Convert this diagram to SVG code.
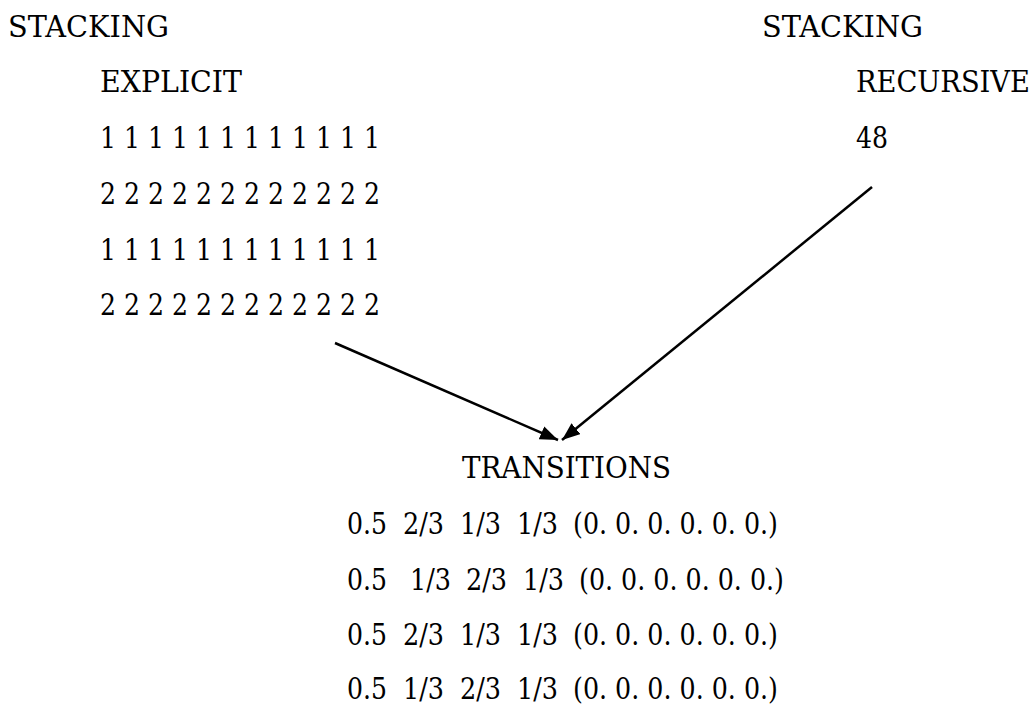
<svg xmlns="http://www.w3.org/2000/svg" width="1036" height="704" viewBox="0 0 1036 704">
<style>
  text { font-family: 'DejaVu Serif', 'Liberation Serif', serif; font-size: 29px; fill: #000; }
  .edge { stroke: #000; stroke-width: 2.5; fill: none; marker-end: url(#arrow); }
</style>
<defs>
  <marker id="arrow" markerUnits="userSpaceOnUse" markerWidth="20" markerHeight="16" refX="18" refY="7" orient="auto">
    <path d="M0,0 L18,7 L0,14 Z" fill="#000"/>
  </marker>
</defs>
<rect width="1036" height="704" fill="#fff"/>
<g id="explicit">
  <text x="8" y="37" textLength="161" lengthAdjust="spacingAndGlyphs">STACKING</text>
  <text x="100" y="92" textLength="142" lengthAdjust="spacingAndGlyphs">EXPLICIT</text>
  <text x="100" y="148" textLength="280" lengthAdjust="spacingAndGlyphs">1 1 1 1 1 1 1 1 1 1 1 1</text>
  <text x="100" y="204" textLength="280" lengthAdjust="spacingAndGlyphs">2 2 2 2 2 2 2 2 2 2 2 2</text>
  <text x="100" y="260" textLength="280" lengthAdjust="spacingAndGlyphs">1 1 1 1 1 1 1 1 1 1 1 1</text>
  <text x="100" y="315" textLength="280" lengthAdjust="spacingAndGlyphs">2 2 2 2 2 2 2 2 2 2 2 2</text>
</g>
<g id="recursive">
  <text x="762" y="37" textLength="161" lengthAdjust="spacingAndGlyphs">STACKING</text>
  <text x="856" y="92" textLength="174" lengthAdjust="spacingAndGlyphs">RECURSIVE</text>
  <text x="856" y="148" textLength="32" lengthAdjust="spacingAndGlyphs">48</text>
</g>
<g id="transitions">
  <text x="462" y="478" textLength="209" lengthAdjust="spacingAndGlyphs">TRANSITIONS</text>
  <text x="347" y="534" textLength="40" lengthAdjust="spacingAndGlyphs">0.5</text>
  <text x="403" y="534" textLength="41" lengthAdjust="spacingAndGlyphs">2/3</text>
  <text x="460" y="534" textLength="41" lengthAdjust="spacingAndGlyphs">1/3</text>
  <text x="517" y="534" textLength="41" lengthAdjust="spacingAndGlyphs">1/3</text>
  <text x="573" y="534" textLength="205" lengthAdjust="spacingAndGlyphs">(0. 0. 0. 0. 0. 0.)</text>
  <text x="347" y="590" textLength="40" lengthAdjust="spacingAndGlyphs">0.5</text>
  <text x="410" y="590" textLength="41" lengthAdjust="spacingAndGlyphs">1/3</text>
  <text x="466" y="590" textLength="41" lengthAdjust="spacingAndGlyphs">2/3</text>
  <text x="523" y="590" textLength="41" lengthAdjust="spacingAndGlyphs">1/3</text>
  <text x="579" y="590" textLength="205" lengthAdjust="spacingAndGlyphs">(0. 0. 0. 0. 0. 0.)</text>
  <text x="347" y="645" textLength="40" lengthAdjust="spacingAndGlyphs">0.5</text>
  <text x="403" y="645" textLength="41" lengthAdjust="spacingAndGlyphs">2/3</text>
  <text x="460" y="645" textLength="41" lengthAdjust="spacingAndGlyphs">1/3</text>
  <text x="517" y="645" textLength="41" lengthAdjust="spacingAndGlyphs">1/3</text>
  <text x="573" y="645" textLength="205" lengthAdjust="spacingAndGlyphs">(0. 0. 0. 0. 0. 0.)</text>
  <text x="347" y="699" textLength="40" lengthAdjust="spacingAndGlyphs">0.5</text>
  <text x="403" y="699" textLength="41" lengthAdjust="spacingAndGlyphs">1/3</text>
  <text x="460" y="699" textLength="41" lengthAdjust="spacingAndGlyphs">2/3</text>
  <text x="517" y="699" textLength="41" lengthAdjust="spacingAndGlyphs">1/3</text>
  <text x="573" y="699" textLength="205" lengthAdjust="spacingAndGlyphs">(0. 0. 0. 0. 0. 0.)</text>
</g>
<g id="connectors">
  <line class="edge" x1="335" y1="343" x2="558" y2="440"/>
  <line class="edge" x1="872" y1="187" x2="562" y2="440"/>
</g>
</svg>
